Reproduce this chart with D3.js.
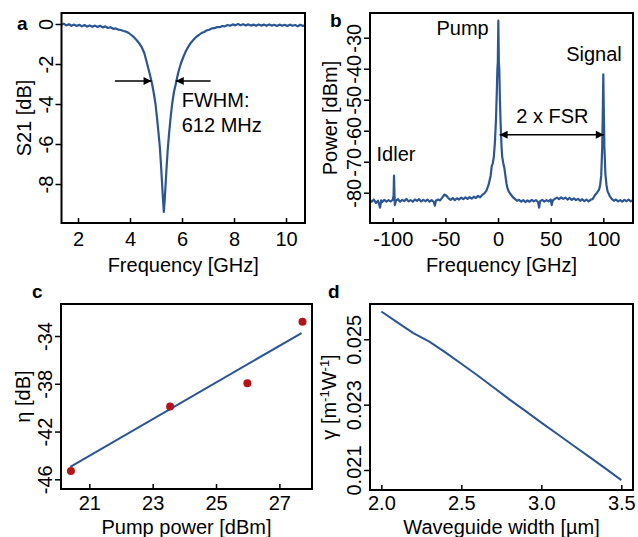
<!DOCTYPE html>
<html>
<head>
<meta charset="utf-8">
<script src="https://cdn.jsdelivr.net/npm/d3@7"></script>
<style>
  body { margin: 0; background: #fff; }
  svg { font-family: "Liberation Sans", Arial, sans-serif; }
</style>
</head>
<body>
<svg id="chart" width="638" height="537"></svg>
<script>
const lineColor = "#2c5593";
const dotColor = "#b3141b";
const fontSize = 20;

// ---- panel a: resonance dip (frequency GHz, S21 dB)
const s21Trace = [
  [1.37,-0.04],[1.45,0.02],[1.55,-0.07],[1.65,-0.01],[1.75,-0.09],[1.85,-0.03],[1.95,-0.1],[2.05,-0.04],
  [2.15,-0.12],[2.25,-0.05],[2.35,-0.13],[2.45,-0.07],[2.55,-0.14],[2.65,-0.08],[2.75,-0.15],[2.85,-0.09],
  [2.95,-0.17],[3.05,-0.12],[3.15,-0.2],[3.25,-0.16],[3.35,-0.24],[3.45,-0.22],[3.55,-0.28],[3.65,-0.3],
  [3.75,-0.35],[3.85,-0.38],[3.95,-0.45],[4.05,-0.55],[4.15,-0.66],[4.25,-0.8],[4.35,-0.96],[4.45,-1.16],
  [4.55,-1.45],[4.65,-1.95],[4.75,-2.45],[4.85,-3.0],[4.92,-3.5],[4.98,-4.0],[5.04,-4.7],[5.1,-5.5],
  [5.15,-6.2],[5.19,-7.0],[5.23,-7.9],[5.27,-8.8],[5.3,-9.4],[5.33,-8.9],[5.37,-8.0],[5.41,-7.1],
  [5.45,-6.3],[5.5,-5.5],[5.56,-4.7],[5.62,-4.0],[5.69,-3.4],[5.76,-3.0],[5.85,-2.45],[5.95,-2.0],
  [6.05,-1.65],[6.15,-1.35],[6.25,-1.12],[6.35,-0.92],[6.45,-0.78],[6.55,-0.64],[6.65,-0.55],[6.75,-0.45],
  [6.85,-0.4],[6.95,-0.32],[7.05,-0.29],[7.15,-0.22],[7.25,-0.21],[7.35,-0.15],[7.45,-0.16],[7.55,-0.1],
  [7.65,-0.12],[7.75,-0.05],[7.85,-0.09],[7.95,-0.02],[8.05,-0.07],[8.15,0.0],[8.25,-0.06],[8.35,-0.01],
  [8.45,-0.07],[8.55,-0.02],[8.65,-0.08],[8.75,-0.03],[8.85,-0.09],[8.95,-0.02],[9.05,-0.08],[9.15,-0.03],
  [9.25,-0.09],[9.35,-0.02],[9.45,-0.08],[9.55,-0.04],[9.65,-0.1],[9.75,-0.03],[9.85,-0.09],[9.95,-0.04],
  [10.05,-0.1],[10.15,-0.03],[10.25,-0.09],[10.35,-0.05],[10.45,-0.11],[10.55,-0.04],[10.65,-0.1],[10.72,-0.06]
];
const freqTicksA = [2, 4, 6, 8, 10];
const s21Ticks = [0, -2, -4, -6, -8];
const fwhmLevel = -2.85;
const fwhmArrows = [[3.42, 4.83], [7.1, 5.76]];   // [tail, tip] in GHz

// ---- panel b: optical spectrum (frequency GHz, power dBm)
const spectrum = [
  [-121.5,-82.4],[-120,-82.9],[-118,-82.2],[-116,-83.3],[-114,-82.6],[-112,-84.8],[-111,-82.5],[-110,-83.0],
  [-108,-82.3],[-106,-82.9],[-104,-82.4],[-102,-82.8],[-100,-82.3],[-99.2,-81.0],[-98.8,-74.5],[-98.4,-80],
  [-98,-84.0],[-97,-82.6],[-95,-82.1],[-93,-82.9],[-91,-82.3],[-89,-82.7],[-87,-82.0],[-85,-82.8],
  [-83,-82.4],[-81,-82.9],[-79,-82.2],[-77,-82.6],[-75,-82.1],[-73,-82.8],[-71,-82.3],[-69,-82.7],
  [-67,-82.2],[-65,-82.9],[-63,-82.4],[-61,-83.0],[-60,-84.2],[-59,-82.6],[-57,-82.2],[-55,-82.5],
  [-53,-81.6],[-51,-80.6],[-49,-81.0],[-47,-81.8],[-45,-82.3],[-43,-81.7],[-41,-82.4],[-39,-81.8],
  [-37,-82.2],[-35,-81.6],[-33,-82.1],[-31,-81.5],[-29,-82.0],[-27,-81.4],[-25,-81.9],[-23,-81.3],
  [-21,-81.7],[-19,-81.0],[-17,-81.5],[-15,-80.7],[-13,-80.2],[-11,-79.3],[-9,-77.5],[-7,-74.5],
  [-6,-71.5],[-5,-70.5],[-4,-68.5],[-3,-64],[-2,-57],[-1.2,-48],[-0.6,-40],[-0.2,-38],
  [0.3,-24.5],[0.8,-38],[1.2,-40],[1.8,-50],[2.5,-58],[3.3,-65],[4,-68.5],[5,-70.5],
  [6,-72],[7,-74.5],[8,-77],[9,-78.5],[10,-79.5],[12,-80.5],[14,-81.4],[16,-82.0],
  [18,-82.6],[20,-82.3],[22,-82.9],[24,-82.4],[26,-83.0],[28,-82.5],[30,-82.9],[32,-82.3],
  [34,-82.8],[36,-82.4],[38,-83.0],[39,-84.8],[40,-82.7],[42,-82.3],[44,-82.9],[46,-82.4],
  [48,-82.8],[50,-82.2],[51,-84.0],[52,-82.5],[54,-82.0],[56,-81.6],[58,-82.1],[60,-81.5],
  [62,-82.0],[64,-81.6],[66,-82.2],[68,-81.7],[70,-82.3],[72,-81.8],[74,-82.4],[76,-82.0],
  [78,-82.6],[80,-82.1],[82,-82.7],[84,-82.2],[86,-82.8],[88,-82.3],[90,-82.0],[92,-80.8],
  [94,-80.0],[96,-79.0],[97,-77.5],[98,-74.5],[99,-65],[99.6,-52],[100,-41.8],[100.4,-52],
  [101,-65],[102,-74],[103,-77.5],[104,-79.5],[106,-81.0],[108,-82.0],[110,-82.6],[112,-82.2],
  [114,-82.8],[116,-82.4],[118,-82.9],[120,-82.3],[122,-82.7],[124,-82.2],[126,-82.8],[128,-82.4]
];
const freqTicksB = [-100, -50, 0, 50, 100];
const powerTicks = [-30, -40, -50, -60, -70, -80];
const fsrArrow = [1.5, 100.5];
const fsrLevel = -61.3;
const specLabels = [
  { text: "Pump", f: -58.5, p: -29.0 },
  { text: "Signal", f: 64.7, p: -37.6 },
  { text: "Idler", f: -115.4, p: -69.9 },
  { text: "2 x FSR", f: 17.3, p: -57.4 }
];

// ---- panel c: conversion efficiency vs pump power
const pumpPower = [20.42, 23.55, 25.99, 27.73];
const eta = [-45.3, -39.9, -37.95, -32.8];
const fitPump = [20.4, 27.7];
const fitEta = [-44.95, -33.75];
const pumpTicks = [21, 23, 25, 27];
const etaTicks = [-34, -38, -42, -46];

// ---- panel d: nonlinear parameter vs waveguide width
const wgWidth = [2.0, 2.1, 2.2, 2.3, 2.4, 2.5, 2.6, 2.7, 2.8, 2.9, 3.0, 3.1, 3.2, 3.3, 3.4, 3.5];
const gamma = [0.02585, 0.02552, 0.02519, 0.02493, 0.02460, 0.02425, 0.02390, 0.02353,
               0.02316, 0.02281, 0.02245, 0.02210, 0.02175, 0.02140, 0.02105, 0.02069];
const widthTicks = [2.0, 2.5, 3.0, 3.5];
const gammaTicks = [0.021, 0.023, 0.025];

const svg = d3.select("#chart");

// arrow heads
const defs = svg.append("defs");
defs.append("marker")
  .attr("id", "head")
  .attr("viewBox", "0 0 10 10")
  .attr("refX", 10).attr("refY", 5)
  .attr("markerUnits", "userSpaceOnUse")
  .attr("markerWidth", 10).attr("markerHeight", 8)
  .attr("orient", "auto-start-reverse")
  .append("path").attr("d", "M0,0L10,5L0,10Z").attr("fill", "#000");

function panel(id, box, xDomain, yDomain) {
  const x = d3.scaleLinear().domain(xDomain).range([box.left, box.right]);
  const y = d3.scaleLinear().domain(yDomain).range([box.bottom, box.top]);
  defs.append("clipPath").attr("id", "clip-" + id)
    .append("rect")
    .attr("x", box.left).attr("y", box.top)
    .attr("width", box.right - box.left).attr("height", box.bottom - box.top);
  const g = svg.append("g");
  const plot = g.append("g").attr("clip-path", `url(#clip-${id})`);
  return { x, y, box, g, plot };
}

function axes(p, o) {
  const { x, y, box, g } = p;
  // x ticks point inward
  g.append("g")
    .attr("transform", `translate(0,${box.bottom})`)
    .call(d3.axisBottom(x).tickValues(o.xTicks).tickSizeInner(-5).tickSizeOuter(0)
      .tickPadding(o.xPad).tickFormat(o.xFormat))
    .call(a => a.select(".domain").remove())
    .call(a => a.selectAll("line").attr("stroke", "#000").attr("stroke-width", 1.5))
    .call(a => a.selectAll("text").attr("fill", "#000").style("font-size", fontSize + "px"));

  // y ticks point outward, labels turned upright
  g.append("g")
    .attr("transform", `translate(${box.left},0)`)
    .call(d3.axisLeft(y).tickValues(o.yTicks).tickSizeInner(6).tickSizeOuter(0).tickFormat(o.yFormat))
    .call(a => a.select(".domain").remove())
    .call(a => a.selectAll("line").attr("stroke", "#000").attr("stroke-width", 1.5))
    .call(a => a.selectAll("text")
      .attr("x", 0).attr("dy", 0)
      .attr("text-anchor", "middle")
      .attr("transform", "translate(-9,0) rotate(-90)")
      .attr("fill", "#000")
      .style("font-size", fontSize + "px"));

  g.append("rect")
    .attr("x", box.left).attr("y", box.top)
    .attr("width", box.right - box.left).attr("height", box.bottom - box.top)
    .attr("fill", "none").attr("stroke", "#000").attr("stroke-width", 2);

  g.append("text")
    .attr("x", (box.left + box.right) / 2)
    .attr("y", o.xLabelY)
    .attr("text-anchor", "middle")
    .style("font-size", fontSize + "px")
    .text(o.xLabel);

  const yl = g.append("text")
    .attr("transform", `translate(${o.yLabelX},${(box.top + box.bottom) / 2}) rotate(-90)`)
    .attr("text-anchor", "middle")
    .style("font-size", fontSize + "px");
  if (typeof o.yLabel === "function") o.yLabel(yl); else yl.text(o.yLabel);

  g.append("text")
    .attr("x", o.tag[1]).attr("y", o.tag[2])
    .style("font-size", "19px")
    .style("font-weight", "bold")
    .text(o.tag[0]);
}

const plain = d => String(d);

// ---------- a
const pa = panel("a", { left: 61.5, right: 305, top: 13, bottom: 223 }, [1.365, 10.73], [-9.95, 0.55]);
pa.plot.append("path")
  .datum(s21Trace)
  .attr("fill", "none")
  .attr("stroke", lineColor)
  .attr("stroke-width", 2.2)
  .attr("stroke-linejoin", "round")
  .attr("d", d3.line().x(d => pa.x(d[0])).y(d => pa.y(d[1])));

pa.g.selectAll(".fwhm")
  .data(fwhmArrows)
  .join("line")
    .attr("x1", d => pa.x(d[0])).attr("x2", d => pa.x(d[1]))
    .attr("y1", pa.y(fwhmLevel)).attr("y2", pa.y(fwhmLevel))
    .attr("stroke", "#000").attr("stroke-width", 1.5)
    .attr("marker-end", "url(#head)");

pa.g.append("text").attr("x", pa.x(5.99)).attr("y", pa.y(-4.13))
  .style("font-size", fontSize + "px").text("FWHM:");
pa.g.append("text").attr("x", pa.x(5.99)).attr("y", pa.y(-5.38))
  .style("font-size", fontSize + "px").text("612 MHz");

axes(pa, {
  xTicks: freqTicksA, yTicks: s21Ticks, xFormat: plain, yFormat: plain, xPad: 9,
  xLabel: "Frequency [GHz]", xLabelY: 272, yLabel: "S21 [dB]", yLabelX: 31,
  tag: ["a", 17, 30]
});

// ---------- b
const pb = panel("b", { left: 370, right: 633, top: 13, bottom: 223 }, [-121.6, 128.2], [-89.77, -22.03]);
pb.plot.append("path")
  .datum(spectrum)
  .attr("fill", "none")
  .attr("stroke", lineColor)
  .attr("stroke-width", 2.2)
  .attr("stroke-linejoin", "round")
  .attr("d", d3.line().x(d => pb.x(d[0])).y(d => pb.y(d[1])));

pb.g.append("line")
  .attr("x1", pb.x(fsrArrow[0])).attr("x2", pb.x(fsrArrow[1]))
  .attr("y1", pb.y(fsrLevel)).attr("y2", pb.y(fsrLevel))
  .attr("stroke", "#000").attr("stroke-width", 1.5)
  .attr("marker-start", "url(#head)")
  .attr("marker-end", "url(#head)");

pb.g.selectAll(".lab")
  .data(specLabels)
  .join("text")
    .attr("x", d => pb.x(d.f)).attr("y", d => pb.y(d.p))
    .style("font-size", fontSize + "px")
    .text(d => d.text);

axes(pb, {
  xTicks: freqTicksB, yTicks: powerTicks, xFormat: plain, yFormat: plain, xPad: 9,
  xLabel: "Frequency [GHz]", xLabelY: 272, yLabel: "Power [dBm]", yLabelX: 337,
  tag: ["b", 330, 27]
});

// ---------- c
const pc = panel("c", { left: 61, right: 312, top: 304, bottom: 489 }, [20.106, 28.03], [-46.81, -31.32]);
pc.plot.append("path")
  .datum(d3.zip(fitPump, fitEta))
  .attr("fill", "none")
  .attr("stroke", lineColor)
  .attr("stroke-width", 2)
  .attr("d", d3.line().x(d => pc.x(d[0])).y(d => pc.y(d[1])));
pc.plot.selectAll("circle")
  .data(d3.zip(pumpPower, eta))
  .join("circle")
    .attr("cx", d => pc.x(d[0])).attr("cy", d => pc.y(d[1]))
    .attr("r", 4)
    .attr("fill", dotColor);

axes(pc, {
  xTicks: pumpTicks, yTicks: etaTicks, xFormat: plain, yFormat: plain, xPad: 7,
  xLabel: "Pump power [dBm]", xLabelY: 534, yLabel: "η [dB]", yLabelX: 30,
  tag: ["c", 32, 298]
});

// ---------- d
const pd = panel("d", { left: 370, right: 633, top: 304, bottom: 490 }, [1.929, 3.573], [0.020388, 0.02608]);
pd.plot.append("path")
  .datum(d3.zip(wgWidth, gamma))
  .attr("fill", "none")
  .attr("stroke", lineColor)
  .attr("stroke-width", 2)
  .attr("d", d3.line().x(d => pd.x(d[0])).y(d => pd.y(d[1])));

axes(pd, {
  xTicks: widthTicks, yTicks: gammaTicks, xFormat: d3.format(".1f"), yFormat: d3.format(".3f"), xPad: 6,
  xLabel: "Waveguide width [µm]", xLabelY: 534,
  yLabel: t => {
    t.append("tspan").text("γ [m");
    t.append("tspan").attr("dy", -7).style("font-size", "13px").text("-1");
    t.append("tspan").attr("dy", 7).text("W");
    t.append("tspan").attr("dy", -7).style("font-size", "13px").text("-1");
    t.append("tspan").attr("dy", 7).text("]");
  },
  yLabelX: 336,
  tag: ["d", 328, 298]
});
</script>
</body>
</html>
